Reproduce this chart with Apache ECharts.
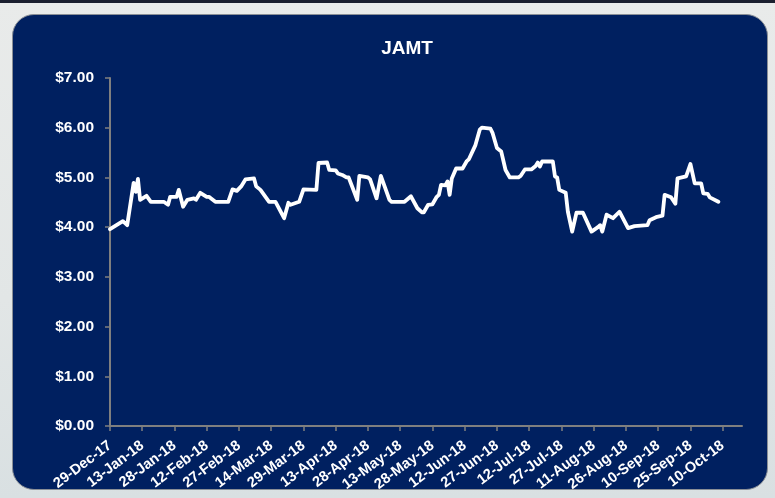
<!DOCTYPE html>
<html>
<head>
<meta charset="utf-8">
<script src="https://cdn.jsdelivr.net/npm/echarts@6/dist/echarts.min.js"></script>
<style>
  html, body { margin: 0; padding: 0; width: 775px; height: 498px; overflow: hidden;
    background: linear-gradient(180deg, #e9ebea 0%, #e2e6e6 60%, #d9e0e2 100%); }
  #topbar { position: absolute; left: 0; top: 0; width: 775px; height: 3px; background: #1a1f2e; }
  #panel { position: absolute; left: 12px; top: 14px; width: 756px; height: 476px;
    background: #002060; border: 1.5px solid #8a8f96; border-radius: 22px; box-sizing: border-box; }
  #chart { position: absolute; left: 0; top: 0; width: 775px; height: 498px; }
</style>
</head>
<body>
<div id="topbar"></div>
<div id="panel"></div>
<div id="chart"></div>
<script>
// ---- data ----
const startDate = '2017-12-29';
const dates = [
  '2017-12-29','2018-01-04','2018-01-06','2018-01-09','2018-01-10','2018-01-11','2018-01-12','2018-01-15','2018-01-17','2018-01-23',
  '2018-01-25','2018-01-26','2018-01-29','2018-01-30','2018-02-01','2018-02-03','2018-02-06','2018-02-07','2018-02-09','2018-02-12',
  '2018-02-13','2018-02-16','2018-02-22','2018-02-24','2018-02-26','2018-02-28','2018-03-02','2018-03-06','2018-03-07','2018-03-09',
  '2018-03-13','2018-03-16','2018-03-20','2018-03-22','2018-03-23','2018-03-27','2018-03-29','2018-04-04','2018-04-05','2018-04-09',
  '2018-04-10','2018-04-13','2018-04-14','2018-04-16','2018-04-18','2018-04-19','2018-04-23','2018-04-24','2018-04-28','2018-04-29',
  '2018-05-02','2018-05-04','2018-05-08','2018-05-09','2018-05-15','2018-05-18','2018-05-21','2018-05-23','2018-05-24','2018-05-26',
  '2018-05-28','2018-05-30','2018-05-31','2018-06-01','2018-06-03','2018-06-04','2018-06-05','2018-06-06','2018-06-08','2018-06-11',
  '2018-06-13','2018-06-14','2018-06-17','2018-06-19','2018-06-20','2018-06-24','2018-06-25','2018-06-27','2018-06-29','2018-07-01',
  '2018-07-03','2018-07-07','2018-07-08','2018-07-10','2018-07-13','2018-07-15','2018-07-16','2018-07-17','2018-07-18','2018-07-23',
  '2018-07-24','2018-07-25','2018-07-26','2018-07-29','2018-07-30','2018-08-01','2018-08-03','2018-08-06','2018-08-10','2018-08-13',
  '2018-08-14','2018-08-15','2018-08-17','2018-08-20','2018-08-23','2018-08-27','2018-08-30','2018-09-05','2018-09-06','2018-09-09',
  '2018-09-12','2018-09-13','2018-09-16','2018-09-18','2018-09-19','2018-09-23','2018-09-25','2018-09-27','2018-09-30','2018-10-01',
  '2018-10-03','2018-10-04','2018-10-08'
];
const prices = [
  3.96,4.12,4.04,4.89,4.71,4.97,4.55,4.63,4.51,4.51,
  4.45,4.61,4.61,4.75,4.41,4.55,4.58,4.55,4.69,4.61,
  4.61,4.51,4.51,4.76,4.73,4.82,4.96,4.98,4.82,4.75,
  4.51,4.51,4.18,4.49,4.45,4.51,4.76,4.75,5.29,5.30,
  5.15,5.14,5.08,5.05,5.00,5.00,4.55,5.03,5.00,4.96,
  4.58,5.03,4.55,4.51,4.51,4.62,4.38,4.30,4.30,4.45,
  4.46,4.61,4.65,4.85,4.84,4.92,4.65,4.98,5.18,5.18,
  5.33,5.37,5.65,5.96,6.00,5.98,5.89,5.59,5.52,5.15,
  5.00,5.00,5.03,5.16,5.16,5.23,5.30,5.22,5.32,5.32,
  5.02,5.00,4.75,4.69,4.31,3.91,4.29,4.29,3.91,4.00,
  4.04,3.91,4.25,4.18,4.31,3.98,4.02,4.04,4.14,4.20,
  4.23,4.65,4.60,4.47,4.98,5.02,5.27,4.88,4.88,4.68,
  4.67,4.60,4.51
];
const xTickLabels = ['29-Dec-17','13-Jan-18','28-Jan-18','12-Feb-18','27-Feb-18','14-Mar-18','29-Mar-18','13-Apr-18',
  '28-Apr-18','13-May-18','28-May-18','12-Jun-18','27-Jun-18','12-Jul-18','27-Jul-18','11-Aug-18','26-Aug-18',
  '10-Sep-18','25-Sep-18','10-Oct-18'];
const yTickLabels = ['$0.00','$1.00','$2.00','$3.00','$4.00','$5.00','$6.00','$7.00'];
const tickStepDays = 15;
const axisMaxDays = 294;

// ---- build ----
const DAY = 86400000;
const t0 = Date.parse(startDate + 'T00:00:00Z');
const seriesData = dates.map((d, i) => [(Date.parse(d + 'T00:00:00Z') - t0) / DAY, prices[i]]);
const FONT = '"Liberation Sans", Arial, sans-serif';

const chart = echarts.init(document.getElementById('chart'), null, { renderer: 'canvas' });
chart.setOption({
  backgroundColor: 'transparent',
  animation: false,
  title: {
    text: 'JAMT', left: 402, top: 34, textAlign: 'center',
    textStyle: { color: '#ffffff', fontFamily: FONT, fontWeight: 'bold', fontSize: 19 }
  },
  grid: { left: 110, right: 33, top: 78, bottom: 72 },
  xAxis: {
    type: 'value', min: 0, max: axisMaxDays, interval: tickStepDays,
    axisLine: { show: true, lineStyle: { color: '#7f7f7f', width: 2 } },
    axisTick: { show: true, length: 5, lineStyle: { color: '#7f7f7f', width: 1.5 } },
    splitLine: { show: false },
    axisLabel: {
      color: '#ffffff', fontFamily: FONT, fontWeight: 'bold', fontSize: 14.5, rotate: 37, margin: 18,
      showMaxLabel: false,
      formatter: v => xTickLabels[Math.round(v / tickStepDays)] || ''
    }
  },
  yAxis: {
    type: 'value', min: 0, max: 7, interval: 1,
    axisLine: { show: true, lineStyle: { color: '#7f7f7f', width: 2 } },
    axisTick: { show: true, length: 5, lineStyle: { color: '#7f7f7f', width: 1.5 } },
    splitLine: { show: false },
    axisLabel: {
      color: '#ffffff', fontFamily: FONT, fontWeight: 'bold', fontSize: 15.5, margin: 16,
      formatter: v => yTickLabels[Math.round(v)]
    }
  },
  series: [{
    type: 'line', data: seriesData, showSymbol: false, symbol: 'none',
    lineStyle: { color: '#ffffff', width: 3.8, cap: 'round', join: 'round' }
  }]
});
</script>
</body>
</html>
